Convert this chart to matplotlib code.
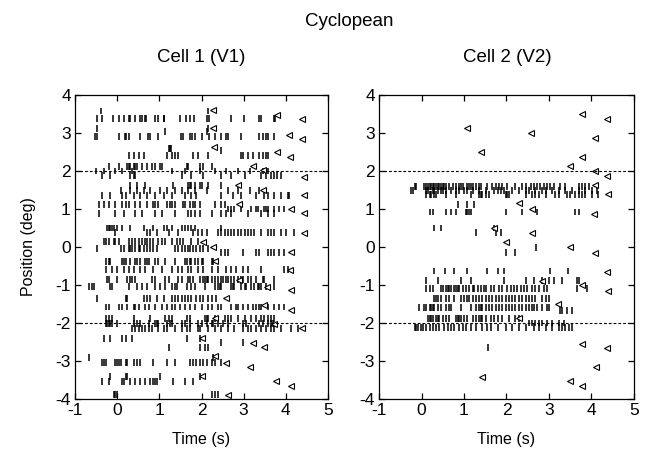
import matplotlib
matplotlib.use("Agg")
import matplotlib.pyplot as plt

plt.rcParams['font.family'] = ['Liberation Sans', 'DejaVu Sans']
plt.rcParams['axes.unicode_minus'] = False

# ---------------- Cell 1 (V1) ----------------
c1_pos = [3.58, 3.38, 3.12, 3.05, 2.9, 2.6, 2.55, 2.4, 2.12, 2.0, 1.88, 1.62, 1.48, 1.36,
          1.12, 1.0, 0.88, 0.5, 0.38, 0.15, -0.05, -0.15, -0.38, -0.6, -0.85, -1.05,
          -1.35, -1.58, -1.88, -2.02, -2.15, -2.4, -2.52, -2.65, -2.9, -3.05, -3.4,
          -3.55, -3.88]
c1_spikes = [
    [-0.39, 2.16],
    [-0.49, -0.35, -0.1, 0.04, 0.16, 0.27, 0.31, 0.42, 0.53, 0.59, 0.65, 0.68, 0.89, 0.98, 1.1,
     1.12, 1.49, 1.63, 1.73, 1.83, 2.14, 2.17, 2.69, 3.0, 3.37, 3.41, 3.71, 3.74],
    [-0.47, 2.16],
    [1.14, 2.14],
    [-0.53, -0.49, 0.04, 0.18, 0.21, 0.27, 0.55, 0.73, 0.78, 0.98, 1.51, 1.57, 1.73, 1.78, 1.84,
     2.0, 2.18, 2.31, 2.47, 2.59, 2.63, 2.94, 3.37, 3.45, 3.53, 3.58, 3.71],
    [1.22, 1.25, 1.28],
    [2.47],
    [0.27, 0.39, 0.51, 0.63, 1.18, 1.29, 1.37, 1.45, 1.8, 1.92, 2.16, 2.94, 2.98, 3.1, 3.22,
     3.37, 3.45, 3.53, 3.57],
    [-0.2, 0.04, 0.24, 0.27, 0.31, 0.39, 0.43, 0.47, 0.59, 0.71, 0.82, 0.9, 1.02, 1.06, 1.65,
     1.69, 1.96, 2.04, 2.24],
    [-0.51, -0.31, -0.04, 0.12, 0.35, 1.29, 1.61, 1.96, 2.31, 2.59, 2.86, 3.14, 3.45, 3.57],
    [-0.35, -0.16, 0.31, 0.39, 0.43, 1.53, 1.76, 2.04, 2.47, 2.71, 3.02, 3.41, 3.53, 3.65, 3.73,
     3.8, 3.88],
    [0.31, 0.47, 0.67, 1.33, 1.69, 1.73, 1.76, 1.84, 1.96, 2.0, 2.16, 2.47],
    [0.08, 0.31, 0.47, 0.63, 0.78, 1.02, 1.18, 1.37, 1.53, 1.69, 1.84, 2.12, 2.63, 2.86, 3.14, 3.37],
    [-0.35, -0.16, 0.12, 0.2, 0.39, 0.55, 0.71, 0.9, 1.1, 1.29, 1.61, 1.76, 1.88, 2.47, 2.75,
     2.94, 3.29, 3.49, 3.57, 3.73, 3.88, 4.04, 4.08],
    [-0.43, -0.31, -0.2, -0.04, 0.12, 0.2, 0.27, 0.43, 0.55, 0.71, 0.86, 0.9, 0.98, 1.18, 1.25,
     1.29, 1.37, 1.57, 1.61, 1.73, 1.8, 1.84, 1.96, 2.31, 2.47, 2.55],
    [2.63, 2.71, 2.78, 2.94, 3.18, 3.29, 3.33, 3.49, 3.53, 3.57, 3.73, 3.84, 3.96],
    [-0.43, -0.04, 0.16, 0.43, 0.59, 0.9, 1.06, 1.37, 1.69, 1.76, 1.84, 1.96, 2.24, 2.47, 2.59,
     2.71, 3.1, 3.41, 3.57, 3.73],
    [-0.24, -0.2, -0.16, -0.12, -0.08, 0.0, 0.12, 0.31, 0.63, 0.86, 1.1, 1.18, 1.29, 1.53, 1.61,
     1.69, 1.76, 1.84, 2.47],
    [-0.04, 0.71, 0.78, 0.94, 1.22, 1.45, 1.8, 1.92, 2.0, 2.12, 2.39, 2.47, 2.55, 2.63, 2.71,
     2.78, 2.86, 2.94, 3.02, 3.1, 3.18, 3.25, 3.41, 3.57, 3.65, 3.73, 3.88, 4.0, 4.2],
    [-0.31, -0.27, -0.2, -0.08, -0.04, 0.04, 0.27, 0.35, 0.43, 0.51, 0.59, 0.67, 0.71, 0.78,
     0.86, 0.98, 1.06, 1.14, 1.29, 1.41, 1.49, 1.57, 1.76, 1.92],
    [-0.47, 0.08, 0.16, 0.27, 0.31, 0.35, 0.43, 0.51, 0.55, 0.63, 0.71, 0.78, 0.86, 0.94, 1.37,
     1.45, 1.53, 1.61, 1.69, 1.73, 1.8, 1.88, 1.96, 2.04, 2.16],
    [2.47, 2.55, 2.63, 2.98, 3.29, 3.37, 3.57, 3.65, 3.73, 3.84, 3.96],
    [-0.27, -0.2, -0.16, 0.12, 0.16, 0.2, 0.31, 0.43, 0.47, 0.55, 0.67, 0.71, 0.75, 0.9, 0.98,
     1.14, 1.37, 1.61, 1.65, 1.73, 1.76, 1.84, 1.92, 2.0, 2.04, 2.24, 2.27],
    [-0.27, -0.12, 0.0, 0.16, 0.27, 0.39, 0.55, 0.67, 0.86, 1.06, 1.29, 1.45, 1.53, 1.69, 1.76,
     1.92, 2.04, 2.24, 2.39, 2.59, 2.71, 2.82, 2.98, 3.1, 3.41, 3.96, 4.04],
    [-0.24, -0.2, 0.0, 0.24, 0.31, 0.35, 0.43, 0.82, 0.9, 1.14, 1.22, 1.45, 1.53, 1.69, 1.73,
     1.8, 1.96, 2.04, 2.08, 2.12, 2.16, 2.24, 2.31, 2.39, 2.47, 2.51, 2.59, 2.63, 2.71, 2.78,
     2.86, 2.94, 2.98, 3.1, 3.18, 3.29, 3.45, 3.49, 3.73],
    [-0.67, -0.59, -0.55, -0.16, -0.12, 0.27, 0.47, 0.59, 0.71, 0.9, 1.02, 1.14, 1.29, 1.37,
     1.41, 1.65, 1.76, 1.84, 2.08, 2.31, 2.39, 2.43, 2.47, 2.71, 2.75, 2.78, 2.94, 3.02, 3.06,
     3.18, 3.25, 3.33, 3.37, 3.41, 3.53, 3.73],
    [-0.47, 0.2, 0.24, 0.63, 0.71, 0.78, 0.94, 1.1, 1.29, 1.37, 1.45, 1.53, 1.61, 1.69, 1.76,
     1.88, 1.96, 2.04, 2.16, 2.24, 2.35],
    [-0.27, -0.2, 0.04, 0.12, 0.24, 0.39, 0.43, 0.51, 0.67, 0.75, 0.9, 1.06, 1.18, 1.29, 1.37,
     1.49, 1.61, 1.73, 1.84, 2.0, 2.16, 2.24, 2.39, 2.47, 2.71, 2.82, 2.86, 2.98, 3.1, 3.22,
     3.29, 3.37, 3.41, 3.57, 3.73, 3.84, 3.96],
    [-0.27, -0.2, -0.12, 0.39, 0.78, 1.14, 1.22, 1.29, 1.65, 1.73, 2.08, 2.12, 2.16, 2.31, 2.55,
     2.63, 2.71, 2.86, 3.02, 3.18, 3.29, 3.41, 3.49, 3.57, 3.65, 3.73],
    [-0.27, -0.24, -0.2, -0.16, -0.12, 0.0, 0.39, 0.47, 0.55, 0.75, 0.9, 0.94, 0.98, 1.18, 1.25,
     1.29, 1.53, 1.61, 1.73, 1.92, 2.0, 2.12, 2.24, 2.27, 2.39, 2.51, 2.63, 2.98, 3.06, 3.37,
     3.45, 3.57, 3.65, 3.69],
    [0.35, 0.43, 0.51, 0.59, 0.67, 0.75, 0.82, 0.98, 1.1, 1.18, 1.37, 1.53, 1.65, 1.73, 1.92,
     1.96, 2.16, 2.31, 2.47, 2.63, 2.78, 2.98, 3.1, 3.18, 3.29, 3.41, 3.53, 3.65, 3.73, 3.88,
     4.12, 4.3],
    [-0.31, -0.16, 0.12, 0.2, 0.35, 1.65, 1.96],
    [2.47, 2.98],
    [1.22, 1.96, 2.08, 2.16],
    [-0.67, 2.27],
    [-0.35, -0.31, -0.27, -0.04, 0.0, 0.04, 0.08, 0.2, 0.24, 0.39, 0.47, 0.55, 0.86, 1.18, 1.37,
     1.73, 1.8, 1.88, 1.96, 2.04, 2.12, 2.24, 2.31, 2.47],
    [-0.16, 0.2, 0.24, 1.02, 1.96],
    [-0.35, -0.2, 0.12, 0.16, 0.31, 0.43, 0.55, 0.67, 0.78, 0.86, 0.9, 0.94, 1.33, 1.61, 1.8],
    [-0.08, -0.04, 0.0, 2.24, 2.31, 2.39],
]
c1_end_t = [2.27, 3.8, 4.39, 2.27, 4.08, 4.39, 2.3, 3.8, 4.1, 3.22, 3.47, 4.43, 2.86, 3.45,
            4.43, 2.9, 4.12, 4.43, 4.43, 2.04, 2.27, 4.12, 2.31, 4.1, 2.9, 3.55, 4.12, 2.59,
            3.49, 4.12, 2.31, 3.73, 4.39, 2.0, 3.22, 3.49, 2.31, 2.59, 3.14, 2.0, 3.76, 4.12,
            2.63]
c1_end_pos = [3.6, 3.47, 3.37, 3.12, 2.95, 2.85, 2.62, 2.49, 2.36, 2.13, 2.02, 1.85, 1.62,
              1.5, 1.37, 1.13, 1.0, 0.89, 0.38, 0.13, 0.0, -0.12, -0.36, -0.6, -0.87, -1.04,
              -1.13, -1.35, -1.53, -1.66, -1.88, -2.02, -2.13, -2.4, -2.52, -2.62, -2.87,
              -3.04, -3.15, -3.4, -3.52, -3.65, -3.9]

# ---------------- Cell 2 (V2) ----------------
c2_pos = [1.6, 1.48, 1.38, 1.12, 0.92, 0.5, 0.38, -0.01, -0.15, -0.63, -0.88, -1.1, -1.35,
          -1.6, -1.68, -1.88, -2.0, -2.12, -2.65]
c2_spikes = [
    [-0.16, -0.12, 0.07, 0.11, 0.15, 0.19, 0.23, 0.27, 0.3, 0.34, 0.38, 0.42, 0.46, 0.5, 0.54,
     0.58, 0.65, 0.73, 0.81, 0.89, 0.93, 0.97, 1.08, 1.12, 1.16, 1.2, 1.28, 1.36, 1.4, 1.55,
     1.67, 1.75, 1.82, 1.9, 2.02, 2.21, 2.37, 2.45, 2.57, 2.64, 2.72, 2.8, 2.88, 2.96, 3.03,
     3.11, 3.27, 3.38, 3.7, 3.77, 3.85, 3.93],
    [-0.24, -0.2, 0.11, 0.15, 0.27, 0.3, 0.38, 0.46, 0.5, 0.58, 0.69, 0.81, 0.89, 1.01, 1.08,
     1.2, 1.36, 1.51, 1.71, 1.79, 1.86, 1.94, 2.14, 2.29, 2.45, 2.53, 2.68, 2.84, 2.92, 3.07,
     3.23, 3.38, 3.54, 3.7, 3.85, 4.01, 4.12],
    [0.11, 0.19, 0.23, 0.3, 0.34, 0.58, 0.81, 1.16, 1.36, 1.4, 1.43, 1.51, 1.59, 1.98, 2.02,
     2.06, 2.45, 2.6, 2.68, 2.76, 2.92, 3.15, 3.23, 3.42, 3.5, 3.62, 3.7, 3.77, 3.85, 4.01, 4.16],
    [0.85, 1.08, 1.24],
    [0.19, 0.27, 0.58, 0.69, 0.81, 1.04, 1.08, 1.12, 1.16, 1.98, 2.37, 2.72, 3.62, 3.7],
    [0.3, 0.46, 1.71],
    [1.28, 1.75, 1.86],
    [2.69],
    [2.0, 2.2],
    [0.3, 0.56, 0.77, 1.07, 1.55, 1.79, 1.94, 3.02, 3.45],
    [0.11, 0.38, 0.93, 1.16, 1.94, 2.45, 2.64, 2.84, 2.99, 3.11, 3.31, 3.66, 3.7],
    [0.11, 0.19, 0.27, 0.46, 0.5, 0.58, 0.62, 0.65, 0.69, 0.77, 0.81, 0.85, 0.89, 0.97, 1.04,
     1.12, 1.2, 1.24, 1.32, 1.4, 1.47, 1.51, 1.63, 1.71, 1.82, 1.9, 2.02, 2.1, 2.18, 2.25, 2.33,
     2.41, 2.49, 2.6, 2.68, 2.76, 2.88, 2.96, 3.66, 3.89],
    [0.3, 0.34, 0.38, 0.46, 0.58, 0.65, 0.77, 0.93, 1.01, 1.08, 1.12, 1.2, 1.28, 1.36, 1.43,
     1.51, 1.59, 1.67, 1.75, 1.82, 1.9, 1.98, 2.06, 2.14, 2.21, 2.29, 2.37, 2.45, 2.53, 2.6,
     2.68, 2.84, 2.92, 2.99],
    [-0.06, 0.07, 0.11, 0.19, 0.23, 0.27, 0.3, 0.38, 0.46, 0.58, 0.65, 0.69, 0.93, 1.16, 1.28,
     1.36, 1.4, 1.43, 1.51, 1.59, 1.67, 1.75, 1.82, 1.9, 1.98, 2.06, 2.14, 2.21, 2.29, 2.37,
     2.45, 2.53, 2.6, 2.64, 2.72, 2.84, 2.96, 2.99],
    [3.27, 3.31, 3.42, 3.54],
    [0.15, 0.19, 0.23, 0.27, 0.34, 0.38, 0.42, 0.5, 0.58, 0.65, 0.81, 0.85, 0.89, 0.93, 1.01,
     1.08, 1.2, 1.28, 1.36, 1.4, 1.43, 1.51, 1.63, 1.71, 1.79, 1.9, 2.06, 2.21, 2.29],
    [2.53, 2.6, 2.68, 2.76, 2.84, 2.96, 3.07, 3.23, 3.35],
    [-0.16, -0.12, -0.09, -0.01, 0.03, 0.11, 0.19, 0.27, 0.34, 0.42, 0.54, 0.62, 0.69, 0.77,
     0.89, 0.97, 1.04, 1.16, 1.28, 1.43, 1.55, 1.63, 1.79, 1.98, 2.14, 2.29, 2.45, 2.64, 2.76,
     2.92, 3.07, 3.23, 3.31, 3.38, 3.46, 3.54],
    [1.57],
]
c2_end_t = [1.08, 1.4, 2.57, 3.77, 4.37, 4.09, 3.77, 3.49, 4.09, 4.37, 4.09, 4.4, 2.29, 2.6,
            4.07, 1.71, 2.6, 1.98, 3.49, 4.09, 4.37, 2.84, 3.77, 4.38, 3.22, 2.29, 3.77, 4.37,
            4.1, 1.42, 3.49, 3.77]
c2_end_pos = [3.12, 2.51, 2.99, 3.5, 3.36, 2.86, 2.38, 2.13, 2.0, 1.87, 1.63, 1.4, 1.15,
              1.0, 0.88, 0.5, 0.37, 0.13, 0.0, -0.15, -0.65, -0.89, -1.0, -1.15, -1.5, -1.88,
              -2.54, -2.67, -3.15, -3.41, -3.53, -3.66]

x_ticks = [-1, 0, 1, 2, 3, 4, 5]
y_ticks = [-4, -3, -2, -1, 0, 1, 2, 3, 4]
ref_lines = [-2, 2]

fig = plt.figure(figsize=(6.5, 4.61), dpi=100)
ax1 = fig.add_axes([75 / 650, 1 - 399 / 461, 253 / 650, 304 / 461])
ax2 = fig.add_axes([379 / 650, 1 - 399 / 461, 255 / 650, 304 / 461])

TICK_H = 0.18


def draw(ax, pos, spikes, end_t, end_pos):
    xs, y0, y1 = [], [], []
    for p, row in zip(pos, spikes):
        for t in row:
            xs.append(t)
            y0.append(p - TICK_H / 2)
            y1.append(p + TICK_H / 2)
    ax.vlines(xs, y0, y1, colors='black', linewidth=1.1)
    ax.plot(end_t, end_pos, linestyle='none', marker='<', markersize=4.4,
            markerfacecolor='white', markeredgecolor='black', markeredgewidth=0.8)
    for r in ref_lines:
        ax.axhline(r, color='black', linestyle=(0, (2.5, 1.8)), linewidth=0.8)
    ax.set_xlim(-1, 5)
    ax.set_ylim(-4, 4)
    ax.set_xticks(x_ticks)
    ax.set_yticks(y_ticks)
    ax.tick_params(direction='in', top=True, right=True, length=4, width=0.9,
                   labelsize=12.5, pad=3)
    for s in ax.spines.values():
        s.set_linewidth(0.9)
    ax.set_xlabel('Time (s)', fontsize=11.5, labelpad=10)


draw(ax1, c1_pos, c1_spikes, c1_end_t, c1_end_pos)
draw(ax2, c2_pos, c2_spikes, c2_end_t, c2_end_pos)
ax1.set_ylabel('Position (deg)', fontsize=11.5, labelpad=14)

fig.text(349 / 650, 1 - 22 / 461, 'Cyclopean', ha='center', va='center', fontsize=13.5)
fig.text(201 / 650, 1 - 58 / 461, 'Cell 1 (V1)', ha='center', va='center', fontsize=13.5)
fig.text(507 / 650, 1 - 58 / 461, 'Cell 2 (V2)', ha='center', va='center', fontsize=13.5)

fig.savefig('out.png', dpi=100)
